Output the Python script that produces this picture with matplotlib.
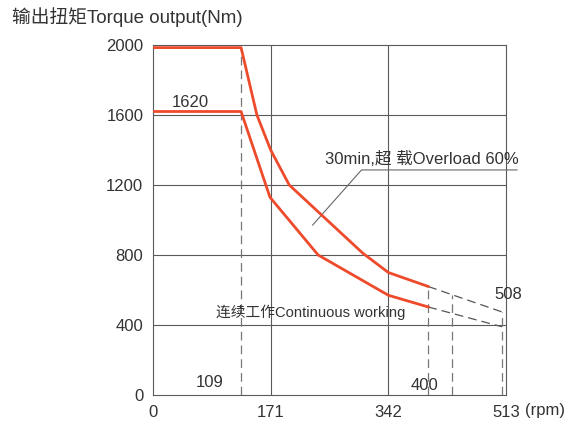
# plot.py
# Krivulja izhodnega navora (Nm) v odvisnosti od vrtljajev (rpm)
import matplotlib.pyplot as plt

# Podatki (odčitani z grafa)
rpm_overload = [0, 128, 151, 171, 198, 305, 342, 400]
nm_overload = [1985, 1985, 1600, 1400, 1200, 810, 700, 620]
rpm_cont = [0, 128, 170, 240, 342, 400]
nm_cont = [1620, 1620, 1130, 800, 570, 503]

# Črtkani podaljški krivulj
rpm_ext = [400, 507]
nm_ext_overload = [620, 475]
nm_ext_cont = [503, 390]

# Navpične črtkane črte (rpm, zgornja meja)
vert_rpm = [128, 400, 435, 507]
vert_top = [1985, 620, 572, 475]

x_ticks = [0, 171, 342, 513]
y_ticks = [0, 400, 800, 1200, 1600, 2000]

FONT = ['Liberation Sans', 'Noto Sans CJK SC']
TXT = '#333333'
RED = '#ee4a2c'
GRID = '#5a5a5a'

plt.rcParams['font.family'] = FONT

fig = plt.figure(figsize=(5.74, 4.24), dpi=100)
ax = fig.add_axes([153 / 574, 29 / 424, 353 / 574, 350 / 424])
ax.set_xlim(0, 513)
ax.set_ylim(0, 2000)

# mreža
for y in y_ticks[1:-1]:
    ax.axhline(y, color=GRID, lw=0.8, zorder=1)
for x in x_ticks[1:-1]:
    ax.axvline(x, color=GRID, lw=0.8, zorder=1)
for s in ax.spines.values():
    s.set_color(GRID)
    s.set_linewidth(0.8)

# navpične črtkane črte
for x, top in zip(vert_rpm, vert_top):
    ax.plot([x, x], [0, top], color='#777777', lw=0.9, ls=(0, (7, 4)), zorder=2)

# krivulje
ax.plot(rpm_overload, nm_overload, color=RED, lw=2, zorder=4)
ax.plot(rpm_cont, nm_cont, color=RED, lw=2, zorder=4)
ax.plot(rpm_ext, nm_ext_overload, color='#555555', lw=0.9, ls=(0, (7, 4)), zorder=3)
ax.plot(rpm_ext, nm_ext_cont, color='#555555', lw=0.9, ls=(0, (7, 4)), zorder=3)

ax.set_xticks(x_ticks)
ax.set_yticks(y_ticks)
ax.tick_params(length=0, labelsize=12, labelcolor=TXT)
ax.tick_params(axis='y', pad=7)
ax.tick_params(axis='x', pad=7)

# napisi
ax.text(54, 1669, '1620', fontsize=12, color=TXT, ha='center', va='center')
ax.text(83, 69, '109', fontsize=12, color=TXT, ha='center', va='center')
ax.text(394, 57, '400', fontsize=12, color=TXT, ha='center', va='center')
ax.text(517, 577, '508', fontsize=12, color=TXT, ha='center', va='center')
ax.text(92, 474, '连续工作Continuous working', fontsize=10.6, color=TXT,
        ha='left', va='center')
ax.text(250, 1350, '30min,超 载Overload 60%', fontsize=12, color=TXT,
        ha='left', va='center')
ax.text(540, -91, '(rpm)', fontsize=12, color=TXT, ha='left', va='center')

# vodilna črta
ax.plot([232, 303, 529], [971, 1286, 1286], color='#666666', lw=0.8,
        clip_on=False, zorder=3)

fig.text(12 / 574, 1 - 17 / 424, '输出扭矩Torque output(Nm)', fontsize=13.5,
         color=TXT, ha='left', va='center')

fig.savefig('out.png', dpi=100)
